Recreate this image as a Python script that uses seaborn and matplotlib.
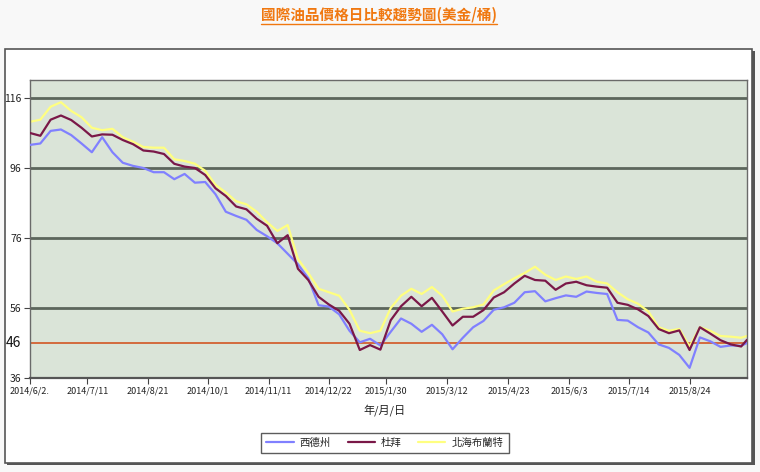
import numpy as np
import pandas as pd
import matplotlib
matplotlib.use("Agg")
import matplotlib.pyplot as plt
from matplotlib.patches import Rectangle
from matplotlib.lines import Line2D
import seaborn as sns

# ---------------- data ----------------
start_date = "2014-06-02"
# day offsets from start (weekly samples + last point)
day_offsets = list(range(0, 484, 7)) + [487]

wti = [102.6, 103.0, 106.6, 107.0, 105.4, 103.0, 100.5, 104.8, 100.5, 97.5,
       96.6, 96.0, 94.8, 94.8, 92.8, 94.3, 91.8, 92.0, 88.5, 83.5,
       82.3, 81.2, 78.3, 76.5, 74.5, 71.5, 68.5, 64.5, 56.8, 56.4,
       54.2, 49.5, 46.2, 47.2, 45.3, 49.2, 53.0, 51.5, 49.2, 51.2,
       48.5, 44.2, 47.5, 50.5, 52.3, 55.5, 56.2, 57.5, 60.5, 60.8,
       57.9, 58.8, 59.6, 59.2, 60.7, 60.3, 60.0, 52.6, 52.4, 50.5,
       49.0, 45.6, 44.6, 42.6, 38.9, 47.6, 46.5, 44.9, 45.3, 45.2,
       46.0]
dubai = [106.0, 105.2, 109.8, 111.0, 109.7, 107.5, 105.0, 105.6, 105.5, 104.0,
         102.8, 101.0, 100.7, 100.0, 97.2, 96.4, 96.0, 94.0, 90.2, 88.0,
         85.0, 84.2, 81.5, 79.5, 74.5, 76.8, 67.2, 64.0, 59.2, 57.0,
         55.2, 51.5, 44.0, 45.4, 44.1, 52.5, 56.5, 59.2, 56.5, 58.9,
         55.0, 51.0, 53.5, 53.5, 55.4, 59.0, 60.5, 63.0, 65.2, 64.0,
         63.8, 61.2, 63.0, 63.5, 62.5, 62.1, 61.8, 57.5, 56.9, 55.6,
         53.7, 50.0, 48.8, 49.6, 44.0, 50.5, 48.7, 46.8, 45.6, 45.0,
         46.9]
brent = [109.2, 109.8, 113.5, 114.8, 112.3, 110.5, 107.5, 106.8, 107.2, 104.8,
         103.5, 102.0, 101.8, 101.8, 98.5, 98.0, 97.2, 95.2, 91.2, 89.0,
         86.5, 85.6, 83.5, 80.5, 78.0, 79.7, 70.0, 66.0, 61.5, 60.5,
         59.5, 55.5, 49.5, 48.8, 49.5, 56.0, 59.5, 61.5, 60.0, 62.0,
         59.5, 55.0, 55.8, 56.2, 57.0, 61.0, 62.8, 64.5, 66.0, 67.8,
         65.5, 64.0, 65.0, 64.3, 65.0, 63.5, 63.0, 60.5, 58.5, 57.2,
         55.0, 50.5, 49.5, 50.0, 45.0, 50.5, 49.5, 48.0, 47.8, 47.5,
         48.0]

series_names = ["西德州", "杜拜", "北海布蘭特"]
series_colors = ["#8080ff", "#7a1848", "#ffff80"]
tick_dates = ["2014-06-02", "2014-07-11", "2014-08-21", "2014-10-01", "2014-11-11",
              "2014-12-22", "2015-01-30", "2015-03-12", "2015-04-23", "2015-06-03",
              "2015-07-14", "2015-08-24"]
tick_labels = ["2014/6/2.", "2014/7/11", "2014/8/21", "2014/10/1", "2014/11/11",
               "2014/12/22", "2015/1/30", "2015/3/12", "2015/4/23", "2015/6/3",
               "2015/7/14", "2015/8/24"]
y_ticks = [36, 56, 76, 96, 116]
ref_value = 46
title_text = "國際油品價格日比較趨勢圖(美金/桶)"
x_label = "年/月/日"

# ---------------- build frame ----------------
dates = pd.Timestamp(start_date) + pd.to_timedelta(day_offsets, unit="D")
df = pd.concat([
    pd.DataFrame({"date": dates, "price": vals, "series": name})
    for name, vals in zip(series_names, [wti, dubai, brent])
], ignore_index=True)

sns.set_theme(style="white")
plt.rcParams["font.family"] = ["Noto Sans CJK TC", "DejaVu Sans"]
plt.rcParams["axes.unicode_minus"] = False

W, H = 760, 472
fig = plt.figure(figsize=(W / 100, H / 100), dpi=100)
fig.patch.set_facecolor("#f8f8f8")

def fx(px):
    return px / W

def fy(py):
    return 1 - py / H

# outer white panel with shadow
fig.add_artist(Rectangle((fx(7), fy(465)), fx(748), 414 / H, transform=fig.transFigure,
                         facecolor="#555555", edgecolor="none", zorder=-3))
fig.add_artist(Rectangle((fx(5), fy(463)), fx(747), 414 / H, transform=fig.transFigure,
                         facecolor="white", edgecolor="#555555", linewidth=1.2, zorder=-2))

ax = fig.add_axes([fx(30), fy(378), fx(717), 298 / H])
ax.set_facecolor("#dae4d8")

palette = dict(zip(series_names, series_colors))
sns.lineplot(data=df, x="date", y="price", hue="series", hue_order=series_names,
             palette=palette, linewidth=1.6, ax=ax, legend=False)
zorders = {"西德州": 3, "杜拜": 4, "北海布蘭特": 2}
for line, name in zip(ax.get_lines(), series_names):
    line.set_zorder(zorders[name])

ax.set_xlim(pd.Timestamp(start_date), pd.Timestamp(start_date) + pd.Timedelta(days=487))
ax.set_ylim(36, 121.14)
ax.set_yticks(y_ticks)
ax.set_yticklabels([str(v) for v in y_ticks], fontsize=7.5)
ax.set_xticks(pd.to_datetime(tick_dates))
ax.set_xticklabels(tick_labels, fontsize=6.5)
ax.tick_params(axis="both", which="both", length=4, width=0.8, color="#444444",
               direction="out", pad=2, labelcolor="#222222", left=True, bottom=True)
for lab in ax.get_xticklabels():
    lab.set_fontstretch("condensed")

ax.grid(axis="y", color="#5c665c", linewidth=2.0)
ax.grid(axis="x", visible=False)
ax.set_axisbelow(True)
for s in ax.spines.values():
    s.set_color("#6a6a6a")
    s.set_linewidth(1.0)
ax.spines["bottom"].set_color("#555555")
ax.spines["bottom"].set_linewidth(1.6)

ax.axhline(ref_value, color="#d24a14", linewidth=1.1, zorder=1.5)
ax.text(-0.012, ref_value, str(ref_value), transform=ax.get_yaxis_transform(),
        ha="right", va="center", fontsize=10, color="#111111")

ax.set_xlabel("")
ax.set_ylabel("")
fig.text(fx(385), fy(410), x_label, ha="center", va="center", fontsize=8, color="#222222")

# legend
handles = [Line2D([0], [0], color=c, linewidth=1.6) for c in series_colors]
leg = fig.legend(handles, series_names, loc="center", bbox_to_anchor=(fx(385), fy(443)),
                 ncol=3, frameon=True, fancybox=False, edgecolor="#333333",
                 fontsize=7.5, handlelength=2.6, columnspacing=1.6, handletextpad=0.6,
                 borderpad=0.5)
leg.get_frame().set_linewidth(1.0)

# title with underline
title = fig.text(fx(379), fy(15), title_text, ha="center", va="center",
                 fontsize=10.5, fontweight="bold", color="#f07810")
fig.canvas.draw()
bb = title.get_window_extent(renderer=fig.canvas.get_renderer())
fig.add_artist(Line2D([bb.x0 / W, bb.x1 / W], [(bb.y0 - 1) / H, (bb.y0 - 1) / H],
                      transform=fig.transFigure, color="#f07810", linewidth=1.0))

fig.savefig("out.png", dpi=100, facecolor=fig.get_facecolor())
